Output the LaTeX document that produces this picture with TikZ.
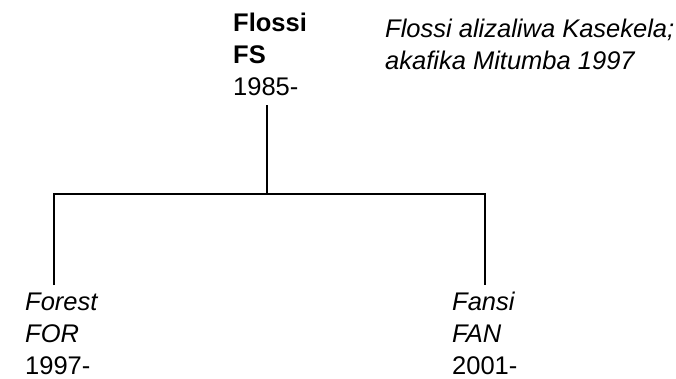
\documentclass[tikz,border=0pt]{standalone}
\usepackage{fontspec}
\setmainfont{Liberation Sans}
\begin{document}
\begin{tikzpicture}[x=1pt,y=-1pt,
  txt/.style={inner sep=0pt,anchor=base west,align=left,font=\fontsize{25.5}{32}\selectfont},
  link/.style={line width=1.2pt,black}]
\useasboundingbox (0,0) rectangle (676,378);
\node[txt] (fs) at (233,95) {\textbf{Flossi}\\\textbf{FS}\\1985-};
\node[txt] (note) at (385,69) {\itshape Flossi alizaliwa Kasekela;\\\itshape akafika Mitumba 1997};
\node[txt] (for) at (25,374) {\itshape Forest\\\itshape FOR\\1997-};
\node[txt] (fan) at (452,374) {\itshape Fansi\\\itshape FAN\\2001-};
\coordinate (top) at (267,105);
\coordinate (mid) at (267,194);
\coordinate (l) at (54,194);
\coordinate (r) at (485,194);
\coordinate (lb) at (54,285);
\coordinate (rb) at (485,285);
\draw[link] (top) -- (mid);
\draw[link] (lb) -- (l) -- (r) -- (rb);
\end{tikzpicture}
\end{document}
